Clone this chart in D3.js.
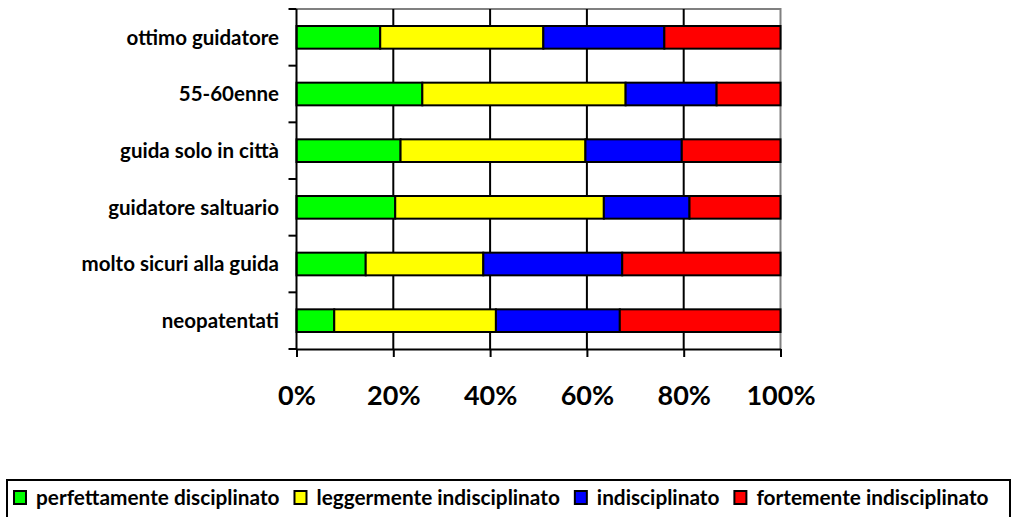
<!DOCTYPE html>
<html>
<head>
<meta charset="utf-8">
<script src="https://cdn.jsdelivr.net/npm/d3@7"></script>
<style>
  html, body { margin: 0; padding: 0; background: #fff; }
  svg { display: block; font-family: Lato, "Open Sans", sans-serif; font-weight: bold; }
</style>
</head>
<body>
<svg id="chart" width="1013" height="517"></svg>
<script>
// Driver categories, top to bottom
const categories = [
  "ottimo guidatore",
  "55-60enne",
  "guida solo in città",
  "guidatore saltuario",
  "molto sicuri alla guida",
  "neopatentati"
];

// Series names and colours (stacking order, left to right)
const seriesNames = [
  "perfettamente disciplinato",
  "leggermente indisciplinato",
  "indisciplinato",
  "fortemente indisciplinato"
];
const seriesColors = ["#00ff00", "#ffff00", "#0000ff", "#ff0000"];

// Share of each behaviour per category (%)
const perfettamente = [17.3, 26.0, 21.5, 20.4, 14.3, 7.8];
const leggermente   = [33.7, 42.0, 38.2, 43.1, 24.3, 33.4];
const indisciplin   = [25.0, 18.8, 19.9, 17.7, 28.7, 25.6];
const fortemente    = [24.0, 13.2, 20.4, 18.8, 32.7, 33.2];

const xTicks = [0, 0.2, 0.4, 0.6, 0.8, 1.0];

const rows = categories.map((c, i) => ({
  category: c,
  [seriesNames[0]]: perfettamente[i],
  [seriesNames[1]]: leggermente[i],
  [seriesNames[2]]: indisciplin[i],
  [seriesNames[3]]: fortemente[i]
}));

const svg = d3.select("#chart");
const plot = { left: 296.5, top: 9, width: 484, height: 340 };

const stack = d3.stack().keys(seriesNames).offset(d3.stackOffsetExpand);
const layers = stack(rows);

const x = d3.scaleLinear().domain([0, 1]).range([plot.left, plot.left + plot.width]);
const y = d3.scaleBand().domain(categories)
  .range([plot.top, plot.top + plot.height])
  .paddingInner(0.6).paddingOuter(0.3);

// Plot frame (top and right edges)
svg.append("path")
  .attr("d", `M${plot.left},${plot.top}H${plot.left + plot.width}V${plot.top + plot.height}`)
  .attr("fill", "none").attr("stroke", "#808080").attr("stroke-width", 2);

// Vertical gridlines
svg.append("g").selectAll("line")
  .data(xTicks.slice(1, -1))
  .join("line")
  .attr("x1", d => x(d)).attr("x2", d => x(d))
  .attr("y1", plot.top).attr("y2", plot.top + plot.height)
  .attr("stroke", "#000").attr("stroke-width", 2);

// Stacked bars
svg.append("g").selectAll("g")
  .data(layers)
  .join("g")
  .attr("fill", (d, i) => seriesColors[i])
  .selectAll("rect")
  .data(d => d)
  .join("rect")
  .attr("x", d => x(d[0]))
  .attr("width", d => x(d[1]) - x(d[0]))
  .attr("y", d => y(d.data.category))
  .attr("height", y.bandwidth())
  .attr("stroke", "#000").attr("stroke-width", 2);

// Bottom axis
const xAxis = d3.axisBottom(x).tickValues(xTicks)
  .tickFormat(d3.format(".0%")).tickSize(8).tickSizeOuter(0).tickPadding(29);
const gx = svg.append("g")
  .attr("transform", `translate(0,${plot.top + plot.height})`)
  .call(xAxis);
gx.select(".domain").attr("stroke", "#000").attr("stroke-width", 2);
gx.selectAll(".tick line").attr("stroke", "#000").attr("stroke-width", 2);
gx.selectAll(".tick text")
  .attr("fill", "#000")
  .style("font-family", "Lato, sans-serif").style("font-weight", "bold")
  .style("font-size", "27px");

// Left axis: ticks on band boundaries, labels at band centres
const boundaries = d3.range(categories.length + 1)
  .map(i => plot.top + i * y.step());
const gy = svg.append("g");
gy.append("line")
  .attr("x1", plot.left).attr("x2", plot.left)
  .attr("y1", plot.top).attr("y2", plot.top + plot.height)
  .attr("stroke", "#000").attr("stroke-width", 2);
gy.selectAll("line.tk").data(boundaries).join("line").attr("class", "tk")
  .attr("x1", plot.left - 8).attr("x2", plot.left)
  .attr("y1", d => d).attr("y2", d => d)
  .attr("stroke", "#000").attr("stroke-width", 2);
gy.selectAll("text").data(categories).join("text")
  .attr("x", 279)
  .attr("y", d => y(d) + y.bandwidth() / 2)
  .attr("dy", "0.35em")
  .attr("text-anchor", "end")
  .attr("font-size", 20.5)
  .attr("fill", "#000")
  .text(d => d);

// Legend
const legend = svg.append("g");
legend.append("rect")
  .attr("x", 7).attr("y", 480).attr("width", 1003).attr("height", 50)
  .attr("fill", "#fff").attr("stroke", "#000").attr("stroke-width", 2);
let lx = 14;
seriesNames.forEach((name, i) => {
  legend.append("rect")
    .attr("x", lx).attr("y", 491).attr("width", 12).attr("height", 13)
    .attr("fill", seriesColors[i]).attr("stroke", "#000").attr("stroke-width", 2);
  const t = legend.append("text")
    .attr("x", lx + 22).attr("y", 505)
    .attr("font-size", 20.8).attr("fill", "#000")
    .text(name);
  lx += 22 + t.node().getComputedTextLength() + 15;
});
</script>
</body>
</html>
